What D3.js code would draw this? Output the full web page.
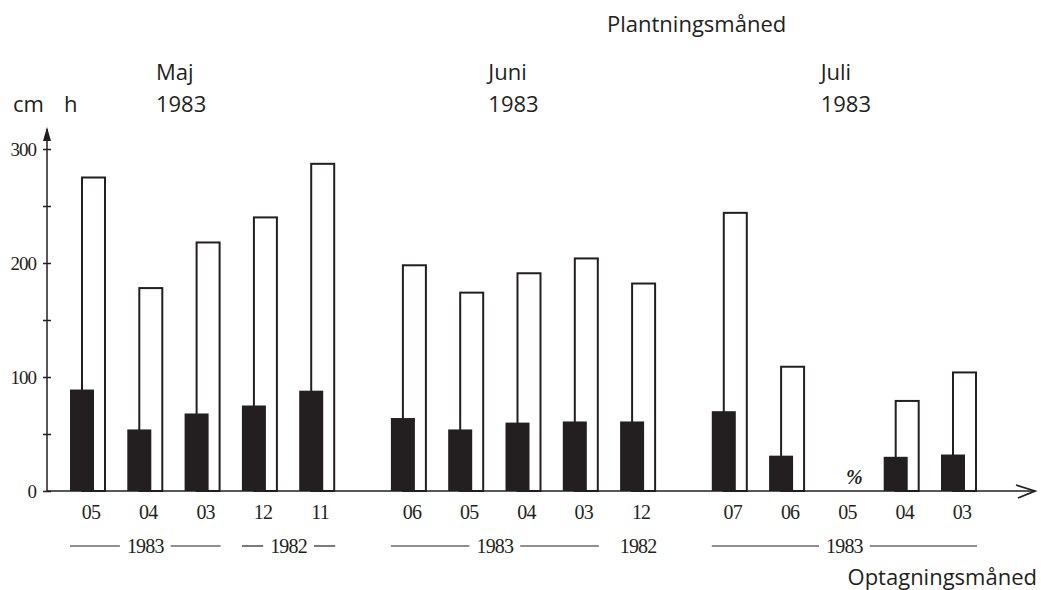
<!DOCTYPE html>
<html>
<head>
<meta charset="utf-8">
<script src="https://cdn.jsdelivr.net/npm/d3@7"></script>
<style>
  body { margin: 0; background: #fff; }
  svg { display: block; }
  .sans { font-family: "Open Sans", "Noto Sans", sans-serif; font-size: 22px; fill: #231f20; }
  .serif { font-family: "Liberation Serif", "DejaVu Serif", serif; fill: #231f20; }
</style>
</head>
<body>
<svg id="chart" width="1041" height="590"></svg>
<script>
// Planting month groups (header above each group of bars)
const plantMonths = ["Maj", "Juni", "Juli"];
const plantYears  = ["1983", "1983", "1983"];

// Lifting month of each lot, per planting group
const liftMonths = [
  ["05", "04", "03", "12", "11"],
  ["06", "05", "04", "03", "12"],
  ["07", "06", "05", "04", "03"]
];
const liftYears = [
  ["1983", "1983", "1983", "1982", "1982"],
  ["1983", "1983", "1983", "1983", "1982"],
  ["1983", "1983", "1983", "1983", "1983"]
];

// Open bars (cm) and filled bars (h); null = no surviving plants
const openValues = [
  [275, 178, 218, 240, 287],
  [198, 174, 191, 204, 182],
  [244, 109, null, 79, 104]
];
const filledValues = [
  [89, 54, 68, 75, 88],
  [64, 54, 60, 61, 61],
  [70, 31, null, 30, 32]
];
const missingMark = "%";

const yTickValues = [0, 50, 100, 150, 200, 250, 300];
const yLabelValues = [0, 100, 200, 300];

// ---------- layout ----------
const ink = "#231f20";
const svg = d3.select("#chart");
const groupStride = 5.6;            // slots per group, incl. the gap
const barW = 24, openShift = 12, openW = 23;

const slotOf = (g, i) => g * groupStride + i;
const lastSlot = slotOf(plantMonths.length - 1, 4);

const x = d3.scaleLinear().domain([0, lastSlot]).range([70, 941]);
const y = d3.scaleLinear().domain([0, 300]).range([491, 149]);
const axisX = 47;

// flatten into one record per lot
const lots = [];
liftMonths.forEach((months, g) => months.forEach((m, i) => {
  lots.push({ g, i, month: m, year: liftYears[g][i],
              open: openValues[g][i], filled: filledValues[g][i] });
}));

// ---------- bars ----------
svg.append("g").selectAll("rect")
  .data(lots.filter(d => d.open != null))
  .join("rect")
  .attr("x", d => x(slotOf(d.g, d.i)) + openShift)
  .attr("y", d => y(d.open))
  .attr("width", openW)
  .attr("height", d => y(0) - y(d.open))
  .attr("fill", "#fff")
  .attr("stroke", ink)
  .attr("stroke-width", 2);

svg.append("g").selectAll("rect")
  .data(lots.filter(d => d.filled != null))
  .join("rect")
  .attr("x", d => x(slotOf(d.g, d.i)))
  .attr("y", d => y(d.filled))
  .attr("width", barW)
  .attr("height", d => y(0) - y(d.filled))
  .attr("fill", ink);

// marker where the lot had no plants
svg.append("g").selectAll("text")
  .data(lots.filter(d => d.open == null))
  .join("text")
  .attr("class", "serif")
  .attr("x", d => x(slotOf(d.g, d.i)) + 28)
  .attr("y", 484)
  .attr("text-anchor", "middle")
  .attr("font-size", 20)
  .attr("font-weight", "bold")
  .attr("font-style", "italic")
  .text(missingMark);

// ---------- y axis ----------
const yAxis = svg.append("g")
  .attr("transform", `translate(${axisX},0)`)
  .call(d3.axisLeft(y)
    .tickValues(yTickValues)
    .tickSize(4)
    .tickPadding(7)
    .tickFormat(v => yLabelValues.includes(v) ? String(v) : ""));
yAxis.select(".domain").remove();
yAxis.selectAll(".tick line").attr("x1", -4).attr("x2", 4)
  .attr("stroke", ink).attr("stroke-width", 1.5);
yAxis.selectAll(".tick text")
  .attr("class", "serif")
  .attr("font-size", 19)
  .attr("letter-spacing", -1)
  .attr("fill", ink);

svg.append("line")
  .attr("x1", axisX).attr("x2", axisX)
  .attr("y1", y(0)).attr("y2", 129)
  .attr("stroke", ink).attr("stroke-width", 1.5);
svg.append("path")
  .attr("d", `M${axisX - 4},141 L${axisX},127 L${axisX + 4},141 Z`)
  .attr("fill", ink);

// ---------- x axis ----------
svg.append("line")
  .attr("x1", axisX).attr("x2", 1035)
  .attr("y1", y(0)).attr("y2", y(0))
  .attr("stroke", ink).attr("stroke-width", 1.5);
svg.append("path")
  .attr("d", `M1016,485 L1035,${y(0)} L1018,498`)
  .attr("fill", "none").attr("stroke", ink).attr("stroke-width", 1.8);

// lifting month labels
svg.append("g").selectAll("text")
  .data(lots)
  .join("text")
  .attr("class", "serif")
  .attr("font-size", 20)
  .attr("letter-spacing", -0.8)
  .attr("x", d => x(slotOf(d.g, d.i)) + 21)
  .attr("y", 519)
  .attr("text-anchor", "middle")
  .text(d => d.month);

// lifting year brackets: runs of equal year within each group
const spans = [];
liftYears.forEach((years, g) => {
  let start = 0;
  for (let i = 1; i <= years.length; i++) {
    if (i === years.length || years[i] !== years[start]) {
      spans.push({ g, from: start, to: i - 1, year: years[start] });
      start = i;
    }
  }
});
const yearRowY = 546;
const spanG = svg.append("g");
spans.forEach(s => {
  const x0 = x(slotOf(s.g, s.from));
  const x1 = x(slotOf(s.g, s.to)) + openShift + openW + 1;
  const cx = (x0 + x1) / 2;
  const t = spanG.append("text")
    .attr("class", "serif")
    .attr("font-size", 20)
    .attr("letter-spacing", -0.8)
    .attr("x", cx).attr("y", yearRowY + 7)
    .attr("text-anchor", "middle")
    .text(s.year);
  const half = t.node().getComputedTextLength() / 2 + 7;
  [[x0, cx - half], [cx + half, x1]].forEach(([a, b]) => {
    if (b - a > 4) {
      spanG.append("line")
        .attr("x1", a).attr("x2", b)
        .attr("y1", yearRowY).attr("y2", yearRowY)
        .attr("stroke", ink).attr("stroke-width", 1.2);
    }
  });
});

// ---------- headings ----------
plantMonths.forEach((m, g) => {
  const hx = x(slotOf(g, 1.5 + 0.2 * g));
  svg.append("text").attr("class", "sans").attr("x", hx).attr("y", 80).text(m);
  svg.append("text").attr("class", "sans").attr("x", hx).attr("y", 112).text(plantYears[g]);
});
svg.append("text").attr("class", "sans").attr("x", 13).attr("y", 112).text("cm");
svg.append("text").attr("class", "sans").attr("x", 64).attr("y", 112).text("h");
svg.append("text").attr("class", "sans").attr("x", 607).attr("y", 32).text("Plantningsmåned");
svg.append("text").attr("class", "sans").attr("x", 1037).attr("y", 585)
  .attr("text-anchor", "end").text("Optagningsmåned");
</script>
</body>
</html>
